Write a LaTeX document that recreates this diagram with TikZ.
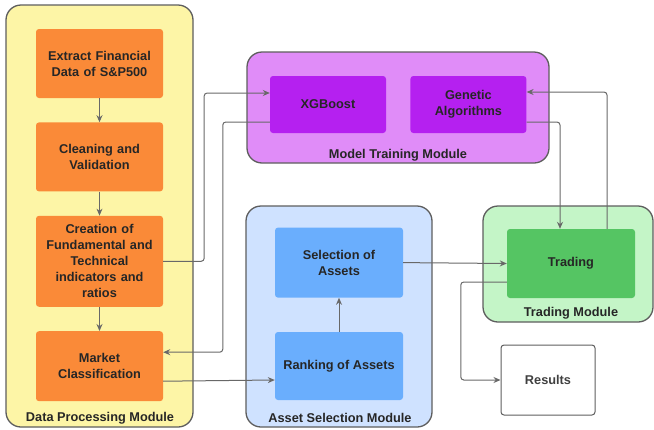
\documentclass[tikz,border=0pt]{standalone}
\usepackage{fontspec}
\setmainfont{Liberation Sans}
\usepackage{xcolor}
\usepackage{tikz}
\usetikzlibrary{arrows.meta, positioning, calc}

\definecolor{edgegray}{HTML}{5E5E5E}
\definecolor{arrgray}{HTML}{686868}
\definecolor{dpmfill}{HTML}{FDF5A6}
\definecolor{stepfill}{HTML}{FA8A38}
\definecolor{mtmfill}{HTML}{E08CF8}
\definecolor{mtmstep}{HTML}{B520F0}
\definecolor{asmfill}{HTML}{CFE2FF}
\definecolor{asmstep}{HTML}{6AAEFD}
\definecolor{tmfill}{HTML}{C4F5C7}
\definecolor{tmstep}{HTML}{55C563}

\tikzset{
  module/.style={draw=edgegray, line width=1.3pt, rounded corners=15pt, inner sep=0pt},
  stepbox/.style={rounded corners=3pt, inner sep=2pt, align=center,
    font=\fontsize{12.75}{16}\selectfont\bfseries, text=black!85},
  modlabel/.style={font=\fontsize{12.75}{16}\selectfont\bfseries, text=black!85},
  arr/.style={-{Stealth[length=7pt,width=6pt]}, draw=arrgray, line width=1pt, rounded corners=3pt}
}

\begin{document}
\begin{tikzpicture}[x=1pt, y=-1pt]
  \useasboundingbox (0,0) rectangle (654,429);

  % module frames
  \node[module, fill=dpmfill, minimum width=187pt, minimum height=422pt] (dpm) at (99.5,216) {};
  \node[module, fill=mtmfill, minimum width=302pt, minimum height=111pt] (mtm) at (398,107.5) {};
  \node[module, fill=asmfill, minimum width=186pt, minimum height=221pt] (asm) at (339,316.5) {};
  \node[module, fill=tmfill, minimum width=170pt, minimum height=116pt] (tm) at (568,264) {};

  \node[modlabel] (dpmlabel) at (100,418) {Data Processing Module};
  \node[modlabel] (mtmlabel) at (398,155) {Model Training Module};
  \node[modlabel] (asmlabel) at (340,418) {Asset Selection Module};
  \node[modlabel] (tmlabel) at (571,313) {Trading Module};

  % data processing steps
  \node[stepbox, fill=stepfill, minimum width=127pt, minimum height=69pt, text width=123pt] (extract) at (99.5,63.5) {Extract Financial\\Data of S\&P500};
  \node[stepbox, fill=stepfill, minimum width=127pt, minimum height=69pt, text width=123pt, below=24pt of extract] (clean) {Cleaning and\\Validation};
  \node[stepbox, fill=stepfill, minimum width=127pt, minimum height=91pt, text width=123pt, below=24pt of clean] (create) {Creation of\\Fundamental and\\Technical\\indicators and\\ratios};
  \node[stepbox, fill=stepfill, minimum width=127pt, minimum height=70pt, text width=123pt, below=24pt of create] (market) {Market\\Classification};

  % model training
  \node[stepbox, fill=mtmstep, minimum width=116pt, minimum height=57pt] (xgb) at (328,104.5) {XGBoost};
  \node[stepbox, fill=mtmstep, minimum width=116pt, minimum height=57pt, right=24pt of xgb] (ga) {Genetic\\Algorithms};

  % asset selection
  \node[stepbox, fill=asmstep, minimum width=128pt, minimum height=68pt] (rank) at (339,366) {Ranking of Assets};
  \node[stepbox, fill=asmstep, minimum width=128pt, minimum height=70pt, above=34pt of rank] (select) {Selection of\\Assets};

  % trading
  \node[stepbox, fill=tmstep, minimum width=128pt, minimum height=69pt] (trade) at (571,263.5) {Trading};
  \node[stepbox, draw=edgegray, line width=1pt, fill=white, text=black!75, minimum width=94pt, minimum height=70pt] (results) at (548,380) {Results};

  % connectors
  \draw[arr] (extract) -- (clean);
  \draw[arr] (clean) -- (create);
  \draw[arr] (create) -- (market);
  \draw[arr] (create.east) -- ++(41,0) |- ([yshift=11.5pt]xgb.west);
  \draw[arr] ([yshift=-17.5pt]xgb.west) -- ++(-47,0) |- ([yshift=14pt]market.east);
  \draw[arr] ([yshift=-15pt]market.east) -- ([yshift=-14pt]rank.west);
  \draw[arr] (rank) -- (select);
  \draw[arr] (select.east) -- (trade.west);
  \draw[arr] ([yshift=-17.5pt]ga.east) -| ([xshift=-11pt]trade.north);
  \draw[arr] ([xshift=36pt]trade.north) |- ([yshift=12.5pt]ga.east);
  \draw[arr] ([yshift=-18.5pt]trade.west) -- ++(-46,0) |- (results.west);
\end{tikzpicture}
\end{document}
